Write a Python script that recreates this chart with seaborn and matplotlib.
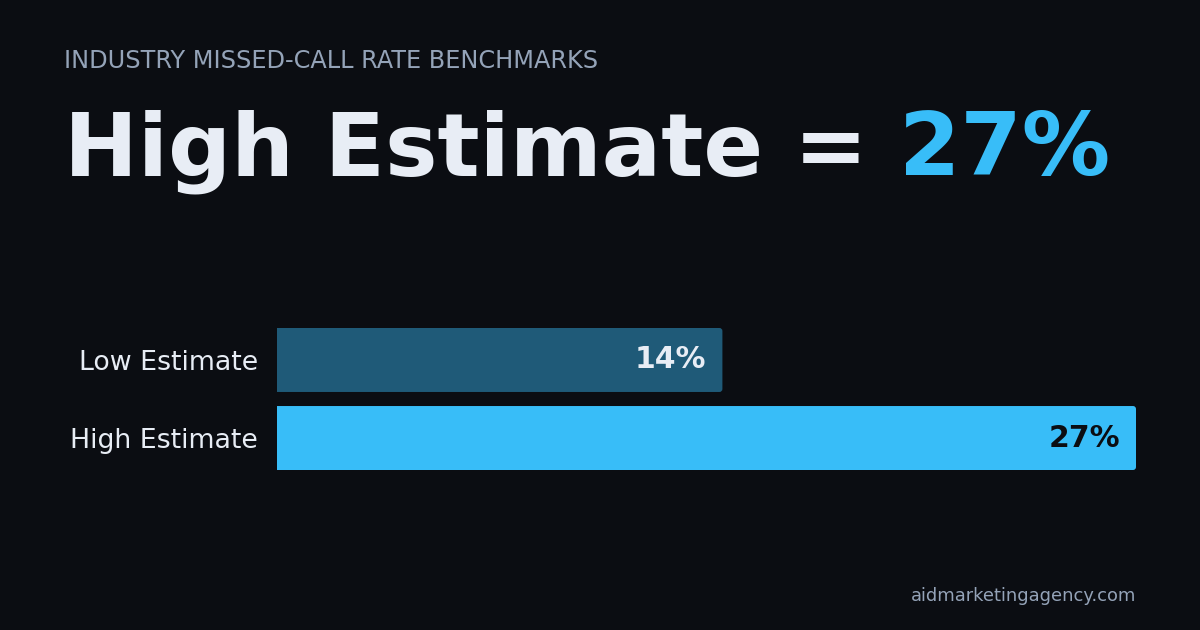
import matplotlib
matplotlib.use("Agg")
import matplotlib.pyplot as plt
from matplotlib.patches import FancyBboxPatch
import seaborn as sns
import pandas as pd

# data
categories = ["Low Estimate", "High Estimate"]
rates = [14, 27]
value_labels = ["14%", "27%"]
headline_label = "High Estimate = "
headline_value = "27%"
kicker = "INDUSTRY MISSED-CALL RATE BENCHMARKS"
footer = "aidmarketingagency.com"

BG = "#0b0d12"
LIGHT = "#e8edf5"
MUTED = "#94a3b8"
SKY = "#38bdf8"
DEEP = "#1f5a78"

sns.set_theme(style="white")
plt.rcParams["font.family"] = ["DejaVu Sans"]

df = pd.DataFrame({"category": categories, "rate": rates})

fig = plt.figure(figsize=(12, 6.3), dpi=100, facecolor=BG)
ax = fig.add_axes([277 / 1200, 1 - 470 / 630, (1136 - 277) / 1200, 142 / 630])
ax.set_facecolor(BG)

sns.barplot(data=df, x="rate", y="category", hue="category",
            palette=[DEEP, SKY], saturation=1, width=0.82, legend=False,
            ax=ax, edgecolor="none", linewidth=0)

ax.set_xlim(0, max(rates))
ax.set_ylim(1.41, -0.41)

# swap the square bars for ones with slightly rounded ends
x_per_px = max(rates) / (1136 - 277)
y_per_px = 1.82 / 142
for p in list(ax.patches):
    x0, y0, w, h = p.get_x(), p.get_y(), p.get_width(), p.get_height()
    fb = FancyBboxPatch((x0 - 0.3, y0), w + 0.3, h,
                        boxstyle=f"round,pad=0,rounding_size={3 * x_per_px}",
                        mutation_aspect=y_per_px / x_per_px,
                        facecolor=p.get_facecolor(), edgecolor="none",
                        linewidth=0)
    p.remove()
    ax.add_patch(fb)

ax.set_xlabel("")
ax.set_ylabel("")
ax.set_xticks([])
ax.tick_params(axis="y", length=0, pad=13.7, labelsize=19.3, labelcolor=LIGHT)
for s in ax.spines.values():
    s.set_visible(False)

val_colors = [LIGHT, BG]
for i, (v, lab) in enumerate(zip(rates, value_labels)):
    ax.annotate(lab, xy=(v, i), xytext=(-11.5, 0), textcoords="offset points",
                ha="right", va="center", fontsize=21.5, fontweight="bold",
                color=val_colors[i])

fig.text(64 / 1200, 1 - 68 / 630, kicker, fontsize=17.3, color=MUTED,
         ha="left", va="baseline")

t1 = fig.text(64 / 1200, 1 - 175 / 630, headline_label, fontsize=63.5,
              fontweight="bold", color=LIGHT, ha="left", va="baseline")
fig.canvas.draw()
bb = t1.get_window_extent()
fig.text(bb.x1 / fig.bbox.width, 1 - 175 / 630, headline_value, fontsize=63.5,
         fontweight="bold", color=SKY, ha="left", va="baseline")

fig.text(1136 / 1200, 1 - 601 / 630, footer, fontsize=12.9, color=MUTED,
         ha="right", va="baseline")

fig.savefig("out.png", dpi=100, facecolor=BG)
